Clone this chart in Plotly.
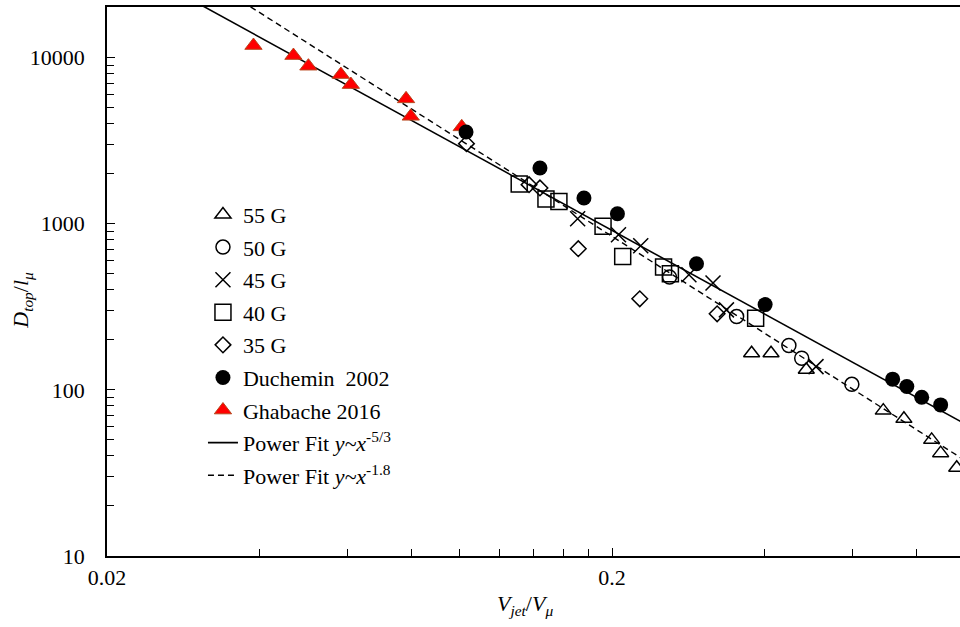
import numpy as np
import plotly.graph_objects as go

# ---------------- data ----------------
g55_x = [0.378, 0.413, 0.485, 0.689, 0.757, 0.859, 0.895, 0.963]
g55_y = [166, 166, 132, 75, 66.9, 50.0, 41.6, 34.0]

g50_x = [0.260, 0.353, 0.448, 0.475, 0.597]
g50_y = [477, 276, 185, 155, 108]

g45_x = [0.171, 0.206, 0.228, 0.284, 0.317, 0.337, 0.507]
g45_y = [1072, 858, 737, 493, 440, 303, 138]

g40_x = [0.131, 0.148, 0.157, 0.192, 0.210, 0.253, 0.261, 0.385]
g40_y = [1734, 1409, 1362, 964, 635, 548, 500, 270]

g35_x = [0.103, 0.137, 0.144, 0.1715, 0.227, 0.323]
g35_y = [3033, 1718, 1641, 707, 353, 287]

duch_x = [0.1028, 0.144, 0.176, 0.205, 0.294, 0.402, 0.719, 0.767, 0.821, 0.895]
duch_y = [3567, 2166, 1428, 1148, 574, 326, 116, 104.7, 90.3, 81.2]

ghab_x = [0.0390, 0.0468, 0.0501, 0.0581, 0.0608, 0.0782, 0.0799, 0.1008]
ghab_y = [11810, 10280, 8870, 7900, 6875, 5640, 4430, 3826]

# power-fit trend lines  y = C * x^(-k)
fit1_C, fit1_k = 10 ** 1.795, 5.0 / 3.0
fit2_C, fit2_k = 10 ** 1.575, 1.93

x_ticks = [0.02, 0.2]
x_ticktext = ["0.02", "0.2"]
x_minor = [0.04, 0.06, 0.08, 0.10, 0.12, 0.14, 0.16, 0.18, 0.4, 0.6, 0.8]
y_ticks = [10, 100, 1000, 10000]
y_ticktext = ["10", "100", "1000", "10000"]
y_minor = [m * d for d in [10, 100, 1000, 10000] for m in range(2, 10)]

X_RANGE = [np.log10(0.02), np.log10(0.02) + 853 / 505]
Y_RANGE = [1, 1 + 548.5 / 166]

FONT = "Liberation Serif"
fs = 22

fig = go.Figure()

xfit = np.logspace(X_RANGE[0] - 0.05, X_RANGE[1] + 0.05, 200)
fig.add_trace(go.Scatter(x=xfit, y=fit1_C * xfit ** (-fit1_k), mode="lines",
                         line=dict(color="black", width=1.6),
                         name="Power Fit <i>y~x</i><sup>-5/3</sup>",
                         legendgroup="h", legendrank=8))
fig.add_trace(go.Scatter(x=xfit, y=fit2_C * xfit ** (-fit2_k), mode="lines",
                         line=dict(color="black", width=1.4, dash="6px,4px"),
                         name="Power Fit <i>y~x</i><sup>-1.8</sup>",
                         legendgroup="i", legendrank=9))

def add(x, y, name, symbol, size, rank, grp, color="black", lw=1.5, lcolor="black"):
    fig.add_trace(go.Scatter(x=x, y=y, mode="markers", name=name,
                             legendgroup=grp, legendrank=rank,
                             marker=dict(symbol=symbol, size=size, color=color,
                                         line=dict(color=lcolor, width=lw))))

add(ghab_x, ghab_y, "Ghabache 2016", "triangle-up", 15, 7, "g",
    color="#ff0000", lw=1, lcolor="#b8451c")
add(g35_x, g35_y, "35 G", "diamond-open", 12, 5, "e")
add(g40_x, g40_y, "40 G", "square-open", 16, 4, "d")
add(g45_x, g45_y, "45 G", "x-thin-open", 15, 3, "c")
add(g50_x, g50_y, "50 G", "circle-open", 14, 2, "b")
add(g55_x, g55_y, "55 G", "triangle-up-open", 14, 1, "a")
add(duch_x, duch_y, "Duchemin  2002", "circle", 15, 6, "f", lw=0)

fig.update_layout(
    width=960, height=627,
    margin=dict(l=107, r=0, t=7, b=71),
    paper_bgcolor="white", plot_bgcolor="white",
    font=dict(family=FONT, size=fs, color="black"),
    showlegend=True,
    legend=dict(x=0.1125, y=0.66, xanchor="left", yanchor="top",
                bgcolor="rgba(0,0,0,0)", font=dict(family=FONT, size=fs),
                traceorder="grouped", tracegroupgap=1, itemsizing="trace"),
    xaxis=dict(type="log", range=X_RANGE, showgrid=False, zeroline=False,
               showline=True, linecolor="black", linewidth=1.5, mirror=True,
               ticks="inside", ticklen=8, tickwidth=1, tickcolor="black",
               tickmode="array", tickvals=x_ticks, ticktext=x_ticktext,
               ticklabelstandoff=1,
               minor=dict(tickmode="array", tickvals=x_minor, ticks="inside",
                          ticklen=7, tickwidth=1, tickcolor="black", showgrid=False)),
    yaxis=dict(type="log", range=Y_RANGE, showgrid=False, zeroline=False,
               showline=True, linecolor="black", linewidth=1.5,
               ticks="inside", ticklen=8, tickwidth=1, tickcolor="black",
               tickmode="array", tickvals=y_ticks, ticktext=y_ticktext,
               ticklabelstandoff=16,
               minor=dict(tickmode="array", tickvals=y_minor, ticks="inside",
                          ticklen=7, tickwidth=1, tickcolor="black", showgrid=False)),
    annotations=[
        dict(text="<i>D</i><sub><i>top</i></sub>/<i>l</i><sub><i>μ</i></sub>",
             xref="paper", yref="paper", x=-0.0997, y=0.4667, showarrow=False,
             textangle=-90, xanchor="center", yanchor="middle",
             font=dict(family=FONT, size=fs)),
        dict(text="<i>V</i><sub><i>jet</i></sub>/<i>V</i><sub><i>μ</i></sub>",
             xref="paper", yref="paper", x=0.49, y=-0.0893, showarrow=False,
             xanchor="center", yanchor="middle",
             font=dict(family=FONT, size=fs)),
    ],
)

fig.write_html("out.html")
